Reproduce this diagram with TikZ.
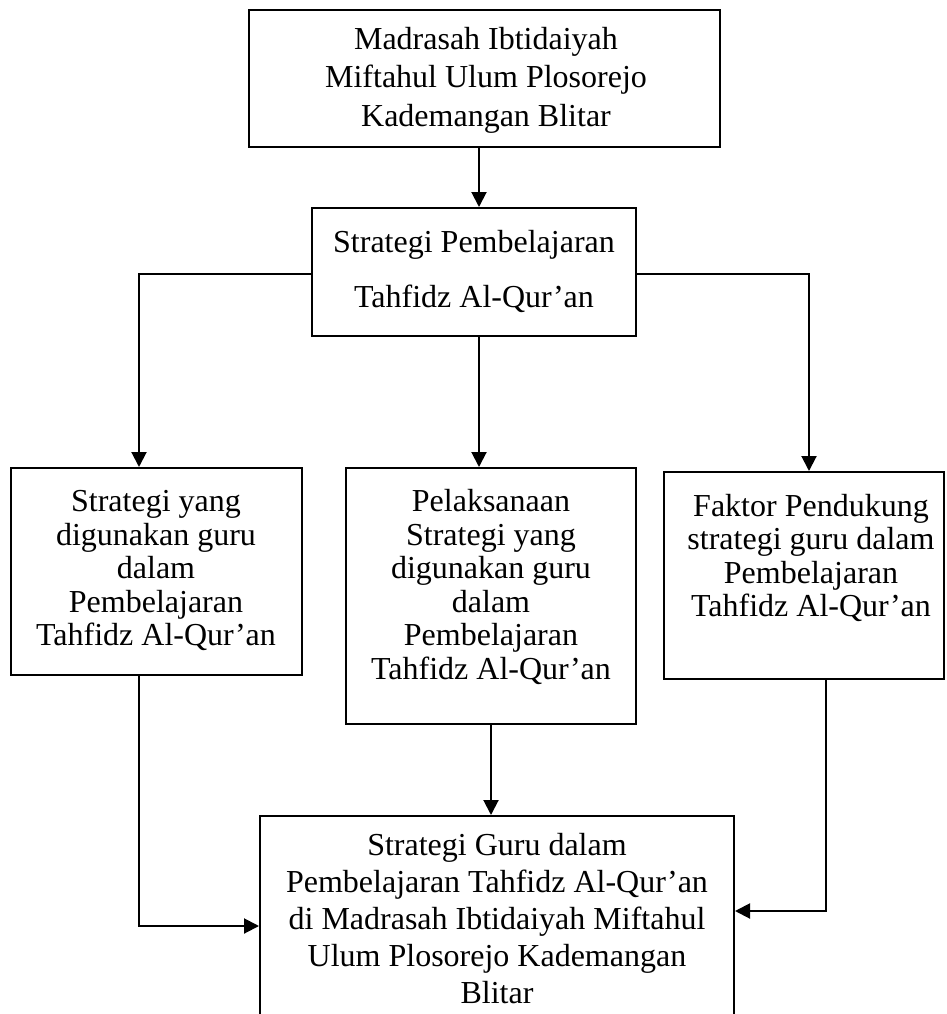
\documentclass[tikz,border=0pt]{standalone}
\usepackage{fontspec}
\setmainfont{Liberation Serif}
\usetikzlibrary{arrows.meta}
\tikzset{
  boxnode/.style={draw=black, line width=2pt, rectangle, inner sep=0pt, fill=none},
  txt/.style={align=center, inner sep=0pt, text=black},
  arr/.style={draw=black, line width=2pt, -{Triangle[width=15pt,length=15pt]}},
}
\newcommand{\fs}[1]{\fontsize{32}{#1}\selectfont}
\begin{document}
\begin{tikzpicture}[x=1pt,y=-1pt]
\useasboundingbox (0,0) rectangle (946,1014);
\clip (0,0) rectangle (946,1014);
\fill[white] (0,0) rectangle (946,1014);
% boxes
\node[boxnode, minimum width=471pt, minimum height=137pt] (top) at (484.5,78.5) {};
\node[boxnode, minimum width=324pt, minimum height=128pt] (mid) at (474,272) {};
\node[boxnode, minimum width=291pt, minimum height=207pt] (left) at (156.5,571.5) {};
\node[boxnode, minimum width=290pt, minimum height=256pt] (cen) at (491,596) {};
\node[boxnode, minimum width=280pt, minimum height=207pt] (right) at (804,575.5) {};
\node[boxnode, minimum width=474pt, minimum height=224pt] (bot) at (497,928) {};
% texts
\node[txt, font=\fs{38.5}] (toptxt) at (486,80) {\strut Madrasah Ibtidaiyah\\\strut Miftahul Ulum Plosorejo\\\strut Kademangan Blitar};
\node[txt, font=\fs{55}] (midtxt) at (474,269) {\strut Strategi Pembelajaran\\\strut Tahfidz Al-Qur’an};
\node[txt, font=\fs{33.5}] (lefttxt) at (156,572) {\strut Strategi yang\\\strut digunakan guru\\\strut dalam\\\strut Pembelajaran\\\strut Tahfidz Al-Qur’an};
\node[txt, font=\fs{33.5}] (centxt) at (491,589) {\strut Pelaksanaan\\\strut Strategi yang\\\strut digunakan guru\\\strut dalam\\\strut Pembelajaran\\\strut Tahfidz Al-Qur’an};
\node[txt, font=\fs{33.5}] (righttxt) at (811,560) {\strut Faktor Pendukung\\\strut strategi guru dalam\\\strut Pembelajaran\\\strut Tahfidz Al-Qur’an};
\node[txt, font=\fs{37}] (bottxt) at (497,922) {\strut Strategi Guru dalam\\\strut Pembelajaran Tahfidz Al-Qur’an\\\strut di Madrasah Ibtidaiyah Miftahul\\\strut Ulum Plosorejo Kademangan\\\strut Blitar};
% connectors
\draw[arr] (479,0 |- top.south) -- (479,0 |- mid.north);
\draw[arr] (mid.west |- 0,274) -| (139,0 |- left.north);
\draw[arr] (479,0 |- mid.south) -- (479,0 |- cen.north);
\draw[arr] (mid.east |- 0,274) -| (809,0 |- right.north);
\draw[arr] (139,0 |- left.south) |- (bot.west |- 0,926);
\draw[arr] (491,0 |- cen.south) -- (491,0 |- bot.north);
\draw[arr] (826,0 |- right.south) |- (bot.east |- 0,911);
\end{tikzpicture}
\end{document}
